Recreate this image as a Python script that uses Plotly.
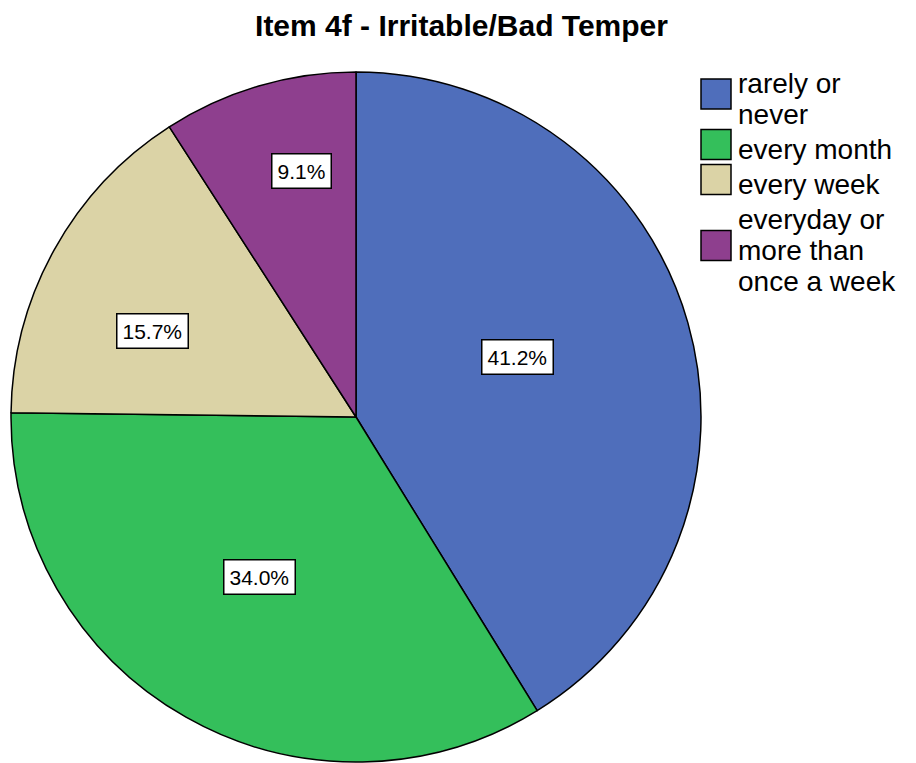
import math
import plotly.graph_objects as go

# data
categories = ["rarely or never", "every month", "every week", "everyday or more than once a week"]
legend_lines = [["rarely or", "never"], ["every month"], ["every week"],
                ["everyday or", "more than", "once a week"]]
percents = [41.2, 34.0, 15.7, 9.1]
colors = ["#4F6EBB", "#34BF5B", "#DBD3A6", "#8E3F8E"]

W, H = 916, 763
OFF = 8  # page body margin, everything is drawn shifted by this
MT, MB = 72 - OFF, 763 - 762 + OFF
FONT = "Liberation Sans, Arial, sans-serif"

# pie geometry in reference pixels
cx, cy, R = 356, 417, 345
label_radius = [0.50, 0.54, 0.64, 0.73]
label_shift = [-4.6, 1.5, -6.0, 3.9]


def px_x(x):
    return (x - OFF) / W


def px_y(y):
    return (H - MB - (y - OFF)) / (H - MT - MB)


fig = go.Figure(go.Pie(
    labels=categories,
    values=percents,
    sort=False,
    direction="clockwise",
    rotation=0,
    marker=dict(colors=colors, line=dict(color="black", width=1.5)),
    textinfo="none",
    hoverinfo="label+percent",
    showlegend=False,
    domain=dict(x=[px_x(cx - R), px_x(cx + R)], y=[0, 1]),
))

annotations = []
total = sum(percents)
start = 0.0
for i, v in enumerate(percents):
    mid = (start + v / 2) / total * 360 + label_shift[i]
    start += v
    r = R * label_radius[i]
    x = cx + r * math.sin(math.radians(mid))
    y = cy - r * math.cos(math.radians(mid))
    annotations.append(dict(
        x=px_x(x), y=px_y(y), xref="paper", yref="paper",
        xanchor="center", yanchor="middle",
        text=f"{v:.1f}%", showarrow=False,
        font=dict(family=FONT, size=21, color="black"),
        bgcolor="white", bordercolor="black", borderwidth=1.5, borderpad=5,
    ))

# legend drawn by hand so the swatches match the large boxes
shapes = []
line_h = 31
top = 68
for lines, col in zip(legend_lines, colors):
    for j, t in enumerate(lines):
        annotations.append(dict(
            x=px_x(736), y=px_y(top + line_h * j + line_h / 2),
            xref="paper", yref="paper", xanchor="left", yanchor="middle",
            text=t, showarrow=False, font=dict(family=FONT, size=28, color="black"),
        ))
    block = line_h * len(lines)
    mid = top + block / 2 - 5
    shapes.append(dict(
        type="rect", xref="paper", yref="paper",
        x0=px_x(701), x1=px_x(731), y0=px_y(mid - 15), y1=px_y(mid + 15),
        fillcolor=col, line=dict(color="black", width=1.5),
    ))
    top += block + 4

fig.update_layout(
    width=W, height=H,
    margin=dict(l=0, r=0, t=MT, b=MB),
    paper_bgcolor="white",
    plot_bgcolor="white",
    title=dict(text="<b>Item 4f - Irritable/Bad Temper</b>", x=(461.5 - OFF) / W, xanchor="center",
               y=1 - (25 - OFF) / H, yanchor="middle",
               font=dict(family=FONT, size=30, color="black")),
    annotations=annotations,
    shapes=shapes,
)

fig.write_html("out.html")
